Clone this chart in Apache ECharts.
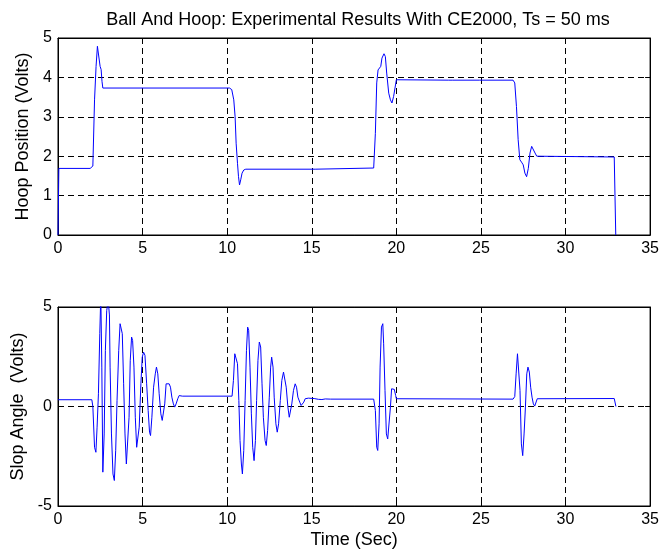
<!DOCTYPE html>
<html>
<head>
<meta charset="utf-8">
<script src="https://cdn.jsdelivr.net/npm/echarts@6/dist/echarts.min.js"></script>
<style>
html,body{margin:0;padding:0;background:#fff;}
#c{width:662px;height:555px;}
</style>
</head>
<body>
<div id="c"></div>
<script>
const titleText = 'Ball And Hoop: Experimental Results With CE2000, Ts = 50 ms';
const xTicks = [0, 5, 10, 15, 20, 25, 30, 35];

const hoopTime = [0, 0.05, 1.9, 2.06, 2.16, 2.25, 2.33, 2.41, 2.49, 2.55, 2.6, 2.65,
  10.14, 10.27, 10.39, 10.47, 10.53, 10.61, 10.67, 10.73, 10.8, 10.88, 10.98, 11.1,
  15.2, 15.3, 18.66, 18.76, 18.84, 18.92, 19.0, 19.08, 19.15, 19.27, 19.35, 19.43,
  19.55, 19.65, 19.74, 19.84, 19.92, 20.0, 20.1, 23.1, 23.2, 23.3, 24.9, 24.95,
  25.0, 25.95, 26.0, 26.05, 26.9, 27.0, 27.1, 27.2, 27.3, 27.4, 27.5, 27.6,
  27.7, 27.8, 27.9, 28.0, 28.1, 28.2, 28.3, 28.4, 32.88, 32.97];
const hoopVolts = [0, 1.69, 1.69, 1.75, 3.43, 4.28, 4.79, 4.75, 4.28, 4.2, 3.9, 3.73,
  3.73, 3.69, 3.43, 3.0, 2.33, 1.82, 1.48, 1.27, 1.4, 1.57, 1.65, 1.67,
  1.67, 1.70, 1.70, 2.58, 3.86, 4.19, 4.24, 4.28, 4.49, 4.6, 4.53, 4.11,
  3.6, 3.43, 3.35, 3.52, 3.73, 3.94, 3.93, 3.93, 3.89, 3.93, 3.93, 3.90,
  3.93, 3.93, 3.90, 3.93, 3.93, 3.86, 3.26, 2.42, 1.91, 1.85, 1.78, 1.57,
  1.48, 1.69, 2.08, 2.25, 2.2, 2.08, 2.0, 1.98, 1.98, 0];

const slopTime = [0, 2.0, 2.06, 2.16, 2.24, 2.31, 2.39, 2.47, 2.53, 2.59, 2.65, 2.73,
  2.8, 2.88, 2.97, 3.04, 3.08, 3.16, 3.25, 3.33, 3.41, 3.49, 3.59, 3.67, 3.73, 3.8,
  3.88, 3.96, 4.04, 4.12, 4.2, 4.27, 4.35, 4.41, 4.49, 4.57, 4.65, 4.73, 4.8, 4.9,
  4.98, 5.06, 5.14, 5.24, 5.33, 5.41, 5.47, 5.55, 5.65, 5.75, 5.82, 5.9, 5.98, 6.08,
  6.16, 6.24, 6.31, 6.39, 6.49, 6.57, 6.65, 6.73, 6.82, 6.9, 6.98, 7.08, 7.16, 7.25,
  7.35, 10.29, 10.37, 10.45, 10.53, 10.61, 10.69, 10.76, 10.84, 10.9, 10.98, 11.06,
  11.14, 11.21, 11.27, 11.35, 11.43, 11.51, 11.59, 11.67, 11.74, 11.82, 11.9, 11.98,
  12.06, 12.14, 12.24, 12.31, 12.39, 12.49, 12.57, 12.63, 12.71, 12.78, 12.88, 12.96,
  13.04, 13.14, 13.23, 13.33, 13.41, 13.49, 13.59, 13.67, 13.75, 13.82, 13.92, 14.02,
  14.1, 14.18, 14.29, 14.37, 14.45, 14.53, 14.61, 14.71, 14.8, 15.14, 15.4, 15.5,
  15.6, 15.8, 15.9, 16.1, 16.2, 18.66, 18.76, 18.84, 18.9, 18.98, 19.04, 19.12,
  19.2, 19.25, 19.33, 19.41, 19.49, 19.57, 19.65, 19.72, 19.8, 19.88, 19.96, 20.0,
  26.9, 27.0, 27.08, 27.16, 27.24, 27.31, 27.39, 27.47, 27.55, 27.63, 27.71, 27.78,
  27.86, 27.94, 28.02, 28.1, 28.18, 28.27, 28.33, 32.88, 32.98];
const slopVolts = [0.34, 0.34, 0, -2.05, -2.3, -1.04, 0.64, 3.66, 5.6, 1.98, -3.3, -1.38,
  2.82, 4.83, 5.3, 4.6, 1.98, -1.38, -3.39, -3.72, -2.2, 0.3, 2.82, 4.16, 4.24, 3.66,
  1.14, -1.38, -2.89, -2.8, -0.54, 2.3, 3.49, 3.32, 1.98, -0.54, -2.05, -2.13, -1.04, 1.14,
  2.48, 2.73, 2.57, 1.14, -0.2, -1.29, -1.46, -0.54, 0.97, 1.64, 1.98, 1.64, 0.64, -0.37,
  -0.7, -0.74, 0.13, 1.14, 1.17, 1.14, 0.97, 0.47, 0.13, -0.03, 0.13, 0.39, 0.55, 0.59,
  0.52, 0.52, 1.31, 2.65, 2.73, 2.15, 0.3, -1.71, -2.89, -3.39, -2.21, 0.3,
  2.82, 3.99, 3.83, 1.98, -0.37, -2.05, -2.72, -1.71, 0.3, 2.32, 3.24, 2.99,
  1.14, -0.54, -1.71, -1.96, -1.21, 0.47, 1.98, 2.48, 1.98, 0.47, -0.87, -1.29,
  -0.87, 0.3, 1.31, 1.73, 1.64, 0.97, -0.03, -0.54, -0.45, 0.13, 0.81, 1.14,
  0.97, 0.47, 0.22, 0.05, 0.05, 0.22, 0.39, 0.47, 0.42, 0.40, 0.36, 0.40,
  0.35, 0.38, 0.34, 0.37, 0.34, 0.37, -0.2, -2.05, -2.21, -0.87, 1.98, 3.99,
  4.16, 3.15, 0.81, -1.38, -1.63, -1.54, -0.03, 0.89, 0.97, 0.86, 0.55, 0.39,
  0.37, 0.5, 1.64, 2.65, 2.57, 0.81, -1.88, -2.47, -1.38, -0.03, 1.64, 1.98,
  1.73, 0.97, 0.47, 0.13, 0.02, 0.02, 0.39, 0.40, 0];

function zip(a, b) { return a.map((v, i) => [v, b[i]]); }

const FONT = 'Liberation Sans, Arial, Helvetica, sans-serif';
const dash = { color: '#000', width: 1, type: [6, 4] };
const lbl = { color: '#000', fontSize: 16, fontFamily: FONT };
const nameLbl = { color: '#000', fontSize: 18, fontFamily: FONT };

function mainX(grid, name) {
  return {
    gridIndex: grid, type: 'value', min: 0, max: 35, interval: 5,
    axisLine: { show: true, onZero: false, lineStyle: { color: '#000', width: 1 } },
    axisTick: { show: true, inside: true, length: 5, lineStyle: { color: '#000' } },
    axisLabel: Object.assign({ margin: 6 }, lbl),
    splitLine: { show: true, lineStyle: dash },
    name: name || '', nameLocation: 'middle', nameGap: 25,
    nameTextStyle: nameLbl
  };
}
function topX(grid) {
  return {
    gridIndex: grid, type: 'value', min: 0, max: 35, interval: 5, position: 'top',
    axisLine: { show: true, onZero: false, lineStyle: { color: '#000' } },
    axisTick: { show: true, inside: true, length: 5, lineStyle: { color: '#000' } },
    axisLabel: { show: false }, splitLine: { show: false }
  };
}
function mainY(grid, min, max, interval, name, gap) {
  return {
    gridIndex: grid, type: 'value', min: min, max: max, interval: interval,
    axisLine: { show: true, onZero: false, lineStyle: { color: '#000', width: 1 } },
    axisTick: { show: true, inside: true, length: 5, lineStyle: { color: '#000' } },
    axisLabel: Object.assign({ margin: 6 }, lbl),
    splitLine: { show: true, lineStyle: dash },
    name: name, nameLocation: 'middle', nameGap: gap, nameRotate: 90,
    nameTextStyle: nameLbl
  };
}
function rightY(grid, min, max, interval) {
  return {
    gridIndex: grid, type: 'value', min: min, max: max, interval: interval, position: 'right',
    axisLine: { show: true, onZero: false, lineStyle: { color: '#000' } },
    axisTick: { show: true, inside: true, length: 5, lineStyle: { color: '#000' } },
    axisLabel: { show: false }, splitLine: { show: false }
  };
}

const chart = echarts.init(document.getElementById('c'), null, { renderer: 'canvas' });
chart.setOption({
  animation: false,
  backgroundColor: '#fff',
  title: {
    text: titleText, left: 353, top: 6, textAlign: 'center',
    textStyle: { color: '#000', fontSize: 18, fontWeight: 'normal', fontFamily: FONT }
  },
  grid: [
    { left: 58, right: 9, top: 38, height: 197, show: true, borderColor: '#000', borderWidth: 1, backgroundColor: 'transparent' },
    { left: 58, right: 9, top: 307, height: 199, show: true, borderColor: '#000', borderWidth: 1, backgroundColor: 'transparent' }
  ],
  xAxis: [mainX(0), mainX(1, 'Time (Sec)'), topX(0), topX(1)],
  yAxis: [
    mainY(0, 0, 5, 1, 'Hoop Position (Volts)', 21),
    mainY(1, -5, 5, 5, 'Slop Angle  (Volts)', 28),
    rightY(0, 0, 5, 1),
    rightY(1, -5, 5, 5)
  ],
  series: [
    { type: 'line', xAxisIndex: 0, yAxisIndex: 0, data: zip(hoopTime, hoopVolts),
      showSymbol: false, clip: true, lineStyle: { color: '#0000ff', width: 1 } },
    { type: 'line', xAxisIndex: 1, yAxisIndex: 1, data: zip(slopTime, slopVolts),
      showSymbol: false, clip: true, lineStyle: { color: '#0000ff', width: 1 } }
  ]
});
</script>
</body>
</html>
